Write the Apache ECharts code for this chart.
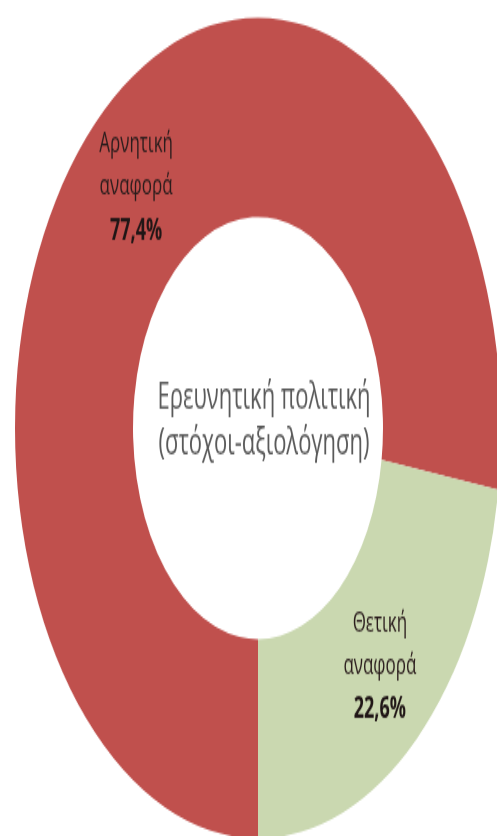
<!DOCTYPE html>
<html>
<head>
<meta charset="utf-8">
<script src="https://cdn.jsdelivr.net/npm/echarts@6/dist/echarts.min.js"></script>
<style>
  html, body { margin: 0; padding: 0; background: #ffffff; overflow: hidden; }
  #wrap { width: 497px; height: 836px; overflow: hidden; position: relative; }
  /* the donut is drawn round and then stretched vertically into an ellipse */
  #chart { width: 497px; height: 495px; transform: scaleY(1.689); transform-origin: 0 0; }
</style>
</head>
<body>
<div id="wrap"><div id="chart"></div></div>
<script>
// Categories and shares (%)
const categories = ['Αρνητική\nαναφορά', 'Θετική\nαναφορά'];
const shares = [77.4, 22.6];
const sliceColors = ['#c0504d', '#cad8b0'];
const centerTitle = 'Ερευνητική πολιτική\n(στόχοι-αξιολόγηση)';

const chart = echarts.init(document.getElementById('chart'), null, { renderer: 'canvas' });

const data = categories.map((name, i) => ({
  name: name,
  value: shares[i],
  itemStyle: { color: sliceColors[i] }
}));

chart.setOption({
  animation: false,
  backgroundColor: '#ffffff',
  graphic: [{
    type: 'text',
    x: 264,
    y: 249,
    style: {
      text: centerTitle,
      fill: '#5a5a5a',
      font: '22px "Open Sans", sans-serif',
      lineHeight: 27,
      align: 'center',
      verticalAlign: 'middle'
    },
    z: 10
  }],
  series: [{
    type: 'pie',
    center: [258, 253.4],
    radius: [125, 243],
    startAngle: 270,
    clockwise: true,
    avoidLabelOverlap: false,
    itemStyle: { borderWidth: 0 },
    label: {
      show: true,
      position: 'inside',
      formatter: function (p) {
        return '{n|' + p.name + '}\n{v|' + p.value.toFixed(1).replace('.', ',') + '%}';
      },
      rich: {
        n: { fontSize: 17, color: '#2a1c1c', fontFamily: '"Open Sans", sans-serif', lineHeight: 25, align: 'center' },
        v: { fontSize: 18, fontWeight: 'bold', color: '#201616', fontFamily: '"Open Sans", sans-serif', lineHeight: 28, align: 'center' }
      }
    },
    labelLine: { show: false },
    emphasis: { disabled: true },
    data: data
  }]
});
</script>
</body>
</html>
